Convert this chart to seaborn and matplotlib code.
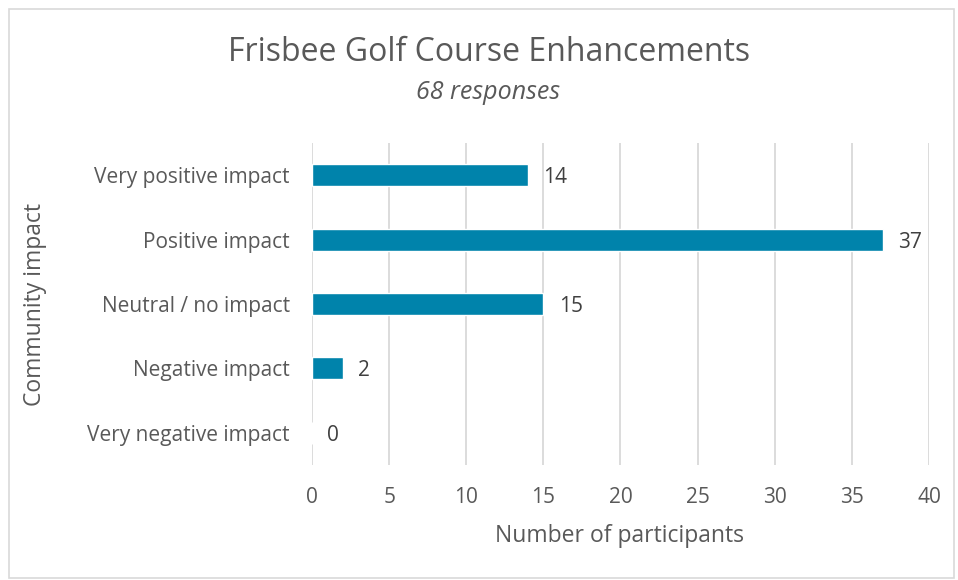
import matplotlib
matplotlib.use("Agg")
import matplotlib.pyplot as plt
import seaborn as sns
import pandas as pd
from matplotlib.patches import Rectangle

categories = ["Very positive impact", "Positive impact", "Neutral / no impact",
              "Negative impact", "Very negative impact"]
counts = [14, 37, 15, 2, 0]
x_ticks = [0, 5, 10, 15, 20, 25, 30, 35, 40]

title = "Frisbee Golf Course Enhancements"
subtitle = "68 responses"

df = pd.DataFrame({"impact": categories, "count": counts})

sns.set_style("white")
plt.rcParams['font.family'] = ['Open Sans', 'DejaVu Sans']
text_color = "#595959"
bar_color = "#0083AB"
grid_color = "#D9D9D9"

fig = plt.figure(figsize=(9.58, 5.8), dpi=100)
ax = fig.add_axes([0.3257, 0.1983, 0.644, 0.555])

sns.barplot(data=df, x="count", y="impact", ax=ax, color=bar_color,
            width=0.34, saturation=1, order=categories)

ax.set_xlim(0, 40)
ax.set_ylim(4.5, -0.5)
ax.set_xticks(x_ticks)
ax.xaxis.grid(True, color=grid_color, linewidth=1.3)
ax.set_axisbelow(True)
for s in ax.spines.values():
    s.set_visible(False)
ax.tick_params(axis="both", length=0, labelsize=15, colors=text_color)
ax.tick_params(axis="x", pad=16)
ax.tick_params(axis="y", pad=16)

for i, v in enumerate(counts):
    ax.text(v + 1.0, i, str(v), va="center_baseline", ha="left",
            fontsize=15, color="#404040")

ax.set_xlabel("Number of participants", fontsize=16.5, color=text_color, va="center")
ax.xaxis.set_label_coords(0.499, -0.222)
ax.set_ylabel("Community impact", fontsize=16.5, color=text_color, va="center")
ax.yaxis.set_label_coords(-0.449, 0.5)

fig.text(0.51, 0.91, title, ha="center", va="center", fontsize=23, color=text_color)
fig.text(0.509, 0.84, subtitle, ha="center", va="center", fontsize=18,
         style="italic", color=text_color)

fig.patches.append(Rectangle((0.009, 0.004), 0.987, 0.98, transform=fig.transFigure,
                             fill=False, edgecolor="#D9D9D9", linewidth=1.2))

fig.savefig("out.png", dpi=100)
